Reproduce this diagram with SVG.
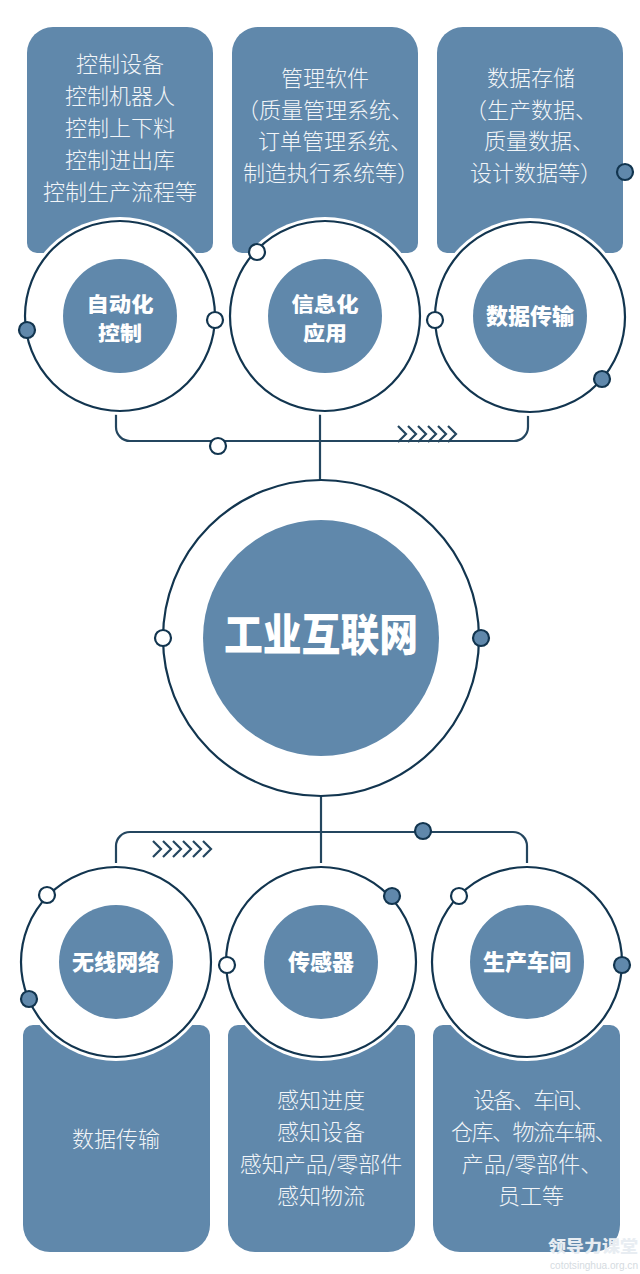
<svg xmlns="http://www.w3.org/2000/svg" width="640" height="1274" viewBox="0 0 640 1274">
<style>
.card{fill:#6088ab}
.halo{fill:#fff}
.ring{fill:#fff;stroke:#12354f;stroke-width:2.2}
.hub{fill:#6088ab}
.wire{fill:none;stroke:#24465f;stroke-width:2.2}
.chev{fill:none;stroke:#24465f;stroke-width:2.2}
.dw{fill:#fff;stroke:#12354f;stroke-width:2.2}
.db{fill:#6088ab;stroke:#12354f;stroke-width:2.2}
text{font-family:"Noto Sans CJK SC","Noto Sans",sans-serif;fill:#fff;text-anchor:middle}
.t{font-size:22px;font-weight:300;fill:#f2f5f8}
.h{font-size:22px;font-weight:900}
.h2{font-size:20px;font-weight:900}
.big{font-size:44px;font-weight:900}
.wm{font-size:16px;font-weight:900;fill:#e8edf2}
.wu{font-size:10px;fill:#d5dbe1;font-family:"Liberation Sans",sans-serif}
</style>
<defs>
<path id="topcard" class="card" d="M27 53a26 26 0 0 1 26-26h134a26 26 0 0 1 26 26v190a10 10 0 0 1-10 10h-166a10 10 0 0 1-10-10z"/>
<path id="botcard" class="card" d="M23 1035a10 10 0 0 1 10-10h167a10 10 0 0 1 10 10v190a27 27 0 0 1-27 27h-133a27 27 0 0 1-27-27z"/>
<path id="chevs" class="chev" d="M0 0l8 8-8 8M10 0l8 8-8 8M20 0l8 8-8 8M30 0l8 8-8 8M40 0l8 8-8 8M50 0l8 8-8 8"/>
</defs>
<rect width="640" height="1274" fill="#fff"/>

<g id="connectors">
<path class="wire" d="M116 411v16a14 14 0 0 0 14 14h384a14 14 0 0 0 14-14v-16"/>
<path class="wire" d="M320 411v70"/>
<path class="wire" d="M321 796v72"/>
<path class="wire" d="M116 868v-22a14 14 0 0 1 14-14h383a14 14 0 0 1 14 14v22"/>
<use href="#chevs" x="398" y="426"/>
<use href="#chevs" x="153" y="841"/>
<circle class="dw" cx="218" cy="446" r="8"/>
<circle class="db" cx="423" cy="831" r="8"/>
</g>

<g id="card-automation">
<use href="#topcard"/>
<text class="t" x="120" y="72">控制设备</text>
<text class="t" x="120" y="104">控制机器人</text>
<text class="t" x="120" y="136">控制上下料</text>
<text class="t" x="120" y="168">控制进出库</text>
<text class="t" x="120" y="200">控制生产流程等</text>
</g>
<g id="card-software">
<use href="#topcard" x="205"/>
<text class="t" x="325" y="86">管理软件</text>
<text class="t" x="325" y="118">（质量管理系统、</text>
<text class="t" x="335" y="149">订单管理系统、</text>
<text class="t" x="331" y="181">制造执行系统等）</text>
</g>
<g id="card-storage">
<use href="#topcard" x="410"/>
<text class="t" x="531" y="86">数据存储</text>
<text class="t" x="531" y="118">（生产数据、</text>
<text class="t" x="539" y="149">质量数据、</text>
<text class="t" x="536" y="181">设计数据等）</text>
<circle class="db" cx="625" cy="172" r="8"/>
</g>

<g id="node-automation">
<circle class="halo" cx="120" cy="316" r="99"/>
<circle class="ring" cx="120" cy="316" r="95"/>
<circle class="hub" cx="120" cy="316" r="57"/>
<text class="h2" x="120" y="312" textLength="67" lengthAdjust="spacingAndGlyphs">自动化</text>
<text class="h2" x="120" y="341" textLength="44" lengthAdjust="spacingAndGlyphs">控制</text>
<circle class="db" cx="27" cy="330" r="8"/>
<circle class="dw" cx="215" cy="320" r="8"/>
</g>
<g id="node-info">
<circle class="halo" cx="325" cy="316" r="99"/>
<circle class="ring" cx="325" cy="316" r="95"/>
<circle class="hub" cx="325" cy="316" r="57"/>
<text class="h2" x="325" y="312" textLength="67" lengthAdjust="spacingAndGlyphs">信息化</text>
<text class="h2" x="325" y="341" textLength="44" lengthAdjust="spacingAndGlyphs">应用</text>
<circle class="dw" cx="257" cy="252" r="8"/>
</g>
<g id="node-transfer">
<circle class="halo" cx="530" cy="317" r="99"/>
<circle class="ring" cx="530" cy="317" r="95"/>
<circle class="hub" cx="530" cy="316" r="57"/>
<text class="h" x="530" y="324">数据传输</text>
<circle class="dw" cx="435" cy="320" r="8"/>
<circle class="db" cx="602" cy="379" r="8"/>
</g>

<g id="node-iiot">
<circle class="ring" cx="321" cy="638" r="158"/>
<circle class="hub" cx="321" cy="638" r="118"/>
<text class="big" x="321" y="651" textLength="194" lengthAdjust="spacingAndGlyphs">工业互联网</text>
<circle class="dw" cx="163" cy="638" r="8"/>
<circle class="db" cx="481" cy="638" r="8"/>
</g>

<g id="card-wireless">
<use href="#botcard"/>
<text class="t" x="116" y="1147">数据传输</text>
</g>
<g id="card-sensor">
<use href="#botcard" x="205"/>
<text class="t" x="321" y="1108">感知进度</text>
<text class="t" x="321" y="1140">感知设备</text>
<text class="t" x="321" y="1172">感知产品/零部件</text>
<text class="t" x="321" y="1204">感知物流</text>
</g>
<g id="card-workshop">
<use href="#botcard" x="410"/>
<text class="t" x="533" y="1108" letter-spacing="-2">设备、车间、</text>
<text class="t" x="533" y="1140" letter-spacing="-1.5">仓库、物流车辆、</text>
<text class="t" x="532" y="1172">产品/零部件、</text>
<text class="t" x="531" y="1204">员工等</text>
</g>

<g id="node-wireless">
<circle class="halo" cx="116" cy="962" r="99"/>
<circle class="ring" cx="116" cy="962" r="95"/>
<circle class="hub" cx="116" cy="962" r="57"/>
<text class="h" x="116" y="970">无线网络</text>
<circle class="dw" cx="47" cy="895" r="8"/>
<circle class="db" cx="29" cy="999" r="8"/>
</g>
<g id="node-sensor">
<circle class="halo" cx="321" cy="962" r="99"/>
<circle class="ring" cx="321" cy="962" r="95"/>
<circle class="hub" cx="321" cy="962" r="57"/>
<text class="h" x="321" y="970">传感器</text>
<circle class="dw" cx="227" cy="965" r="8"/>
<circle class="db" cx="392" cy="896" r="8"/>
</g>
<g id="node-workshop">
<circle class="halo" cx="527" cy="962" r="99"/>
<circle class="ring" cx="527" cy="962" r="95"/>
<circle class="hub" cx="527" cy="962" r="57"/>
<text class="h" x="527" y="970">生产车间</text>
<circle class="dw" cx="459" cy="896" r="8"/>
<circle class="db" cx="622" cy="965" r="8"/>
</g>

<text class="wm" x="593" y="1252" textLength="90" lengthAdjust="spacingAndGlyphs">领导力课堂</text>
<text class="wu" x="594" y="1269" textLength="88" lengthAdjust="spacingAndGlyphs">cototsinghua.org.cn</text>
</svg>
